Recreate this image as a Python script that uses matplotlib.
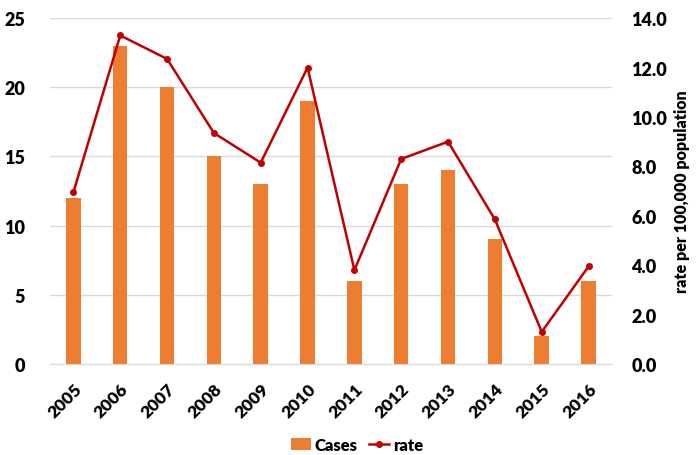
import matplotlib.pyplot as plt
from matplotlib.font_manager import FontProperties
import numpy as np

# Data
years = ['2005', '2006', '2007', '2008', '2009', '2010',
         '2011', '2012', '2013', '2014', '2015', '2016']
cases = [12, 23, 20, 15, 13, 19, 6, 13, 14, 9, 2, 6]
rate = [6.95, 13.3, 12.35, 9.35, 8.15, 12.0, 3.8, 8.3, 9.0, 5.85, 1.3, 3.95]

plt.rcParams['font.family'] = ['Lato', 'DejaVu Sans']
W = 800  # heavy bold, close to Calibri Bold

bar_color = '#ED7D31'
line_color = '#C00000'
grid_color = '#D9D9D9'

fig = plt.figure(figsize=(6.99, 4.56), dpi=100)
ax = fig.add_axes([0.0715, 0.1996, 0.804, 0.7584])
x = np.arange(len(years))

ax.bar(x, cases, width=0.31, color=bar_color, label='Cases', zorder=2)
ax.set_ylim(0, 25)
ax.set_xlim(-0.5, len(years) - 0.5)
ax.set_yticks([0, 5, 10, 15, 20, 25])
ax.set_yticklabels(['0', '5', '10', '15', '20', '25'], fontsize=13, fontweight=W)
ax.yaxis.grid(True, color=grid_color, linewidth=1)
ax.set_axisbelow(True)
for s in ['top', 'right', 'left']:
    ax.spines[s].set_visible(False)
ax.spines['bottom'].set_color(grid_color)
ax.tick_params(axis='both', length=0)
ax.set_xticks(x)
ax.set_xticklabels(years, rotation=45, ha='right', rotation_mode='anchor',
                   fontsize=12.5, fontweight=W)
ax.tick_params(axis='y', pad=18)
ax.tick_params(axis='x', pad=12)

ax2 = ax.twinx()
ax2.plot(x, rate, color=line_color, linewidth=1.8, marker='o', markersize=4,
         label='rate', zorder=3)
ax2.set_ylim(0, 14)
rticks = np.arange(0, 14.1, 2)
ax2.set_yticks(rticks)
ax2.set_yticklabels([f'{v:.1f}' for v in rticks], fontsize=13, fontweight=W)
ax2.tick_params(axis='y', length=0, pad=14)
for s in ax2.spines.values():
    s.set_visible(False)
ax2.set_ylabel('rate per 100,000 population', fontsize=11.5, fontweight=W,
               labelpad=5)

h1, l1 = ax.get_legend_handles_labels()
h2, l2 = ax2.get_legend_handles_labels()
fig.legend(h1 + h2, l1 + l2, loc='center', bbox_to_anchor=(0.511, 0.022),
           ncol=2, frameon=False, handlelength=1.15,
           handletextpad=0.25, columnspacing=0.7, borderpad=0,
           prop=FontProperties(family='Lato', weight=W, size=12))

fig.savefig('out.png', dpi=100)
